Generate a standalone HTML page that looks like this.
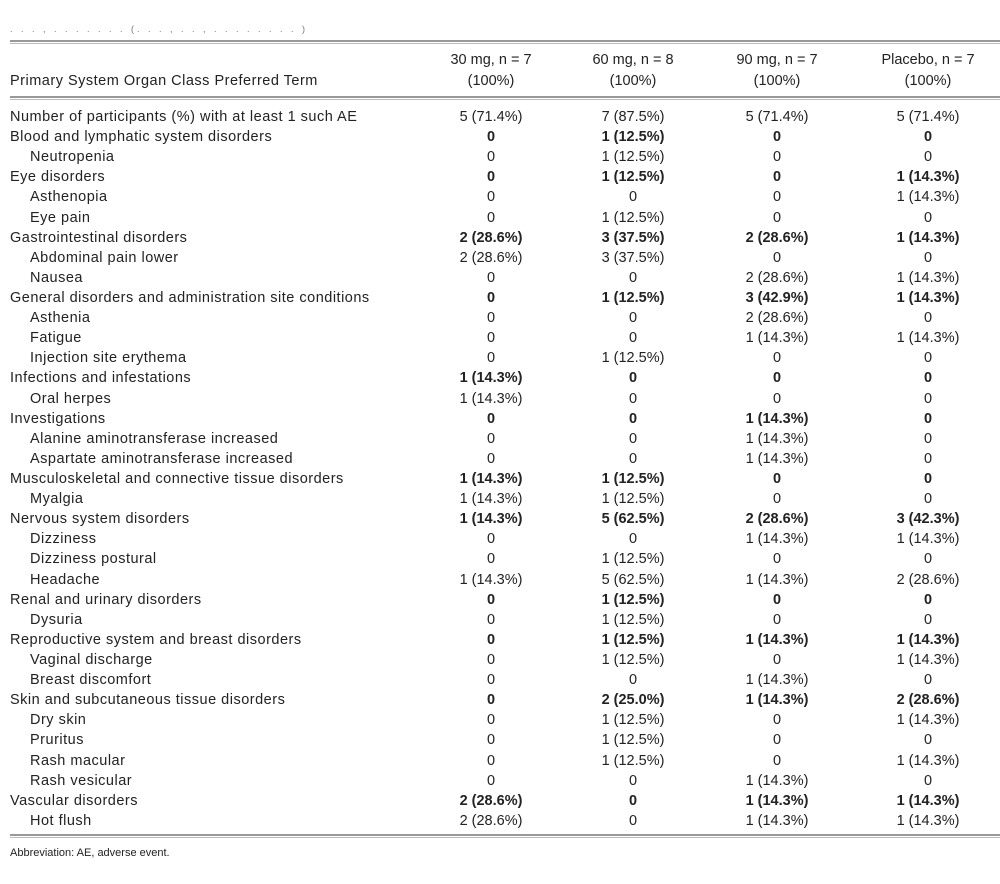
<!DOCTYPE html>
<html><head><style>
body{margin:0;background:#fff;width:1000px;height:884px;position:relative;font-family:"Liberation Sans",sans-serif;color:#222;overflow:hidden}
.r{position:absolute;left:0;width:1000px;height:20px;font-size:14.5px;line-height:20px}
.r span{position:absolute;top:0;white-space:nowrap}
.l{left:10px;letter-spacing:0.5px}.i{left:30px;letter-spacing:0.5px}
.c{transform:translateX(-50%)}
.c1{left:491px}.c2{left:633px}.c3{left:777px}.c4{left:928px}
.b{font-weight:bold}
.rule{position:absolute;left:10px;width:990px;border-top:2px solid #999;border-bottom:1px solid #bbb;height:1px}
.h{position:absolute;font-size:14.5px;text-align:center;line-height:21px;transform:translateX(-50%);white-space:nowrap}
</style></head><body>
<div style="position:absolute;left:10px;top:24px;font-size:9px;color:#777;letter-spacing:3px">. . . , . . . . . . . (. . . , . . , . . . . . . . . )</div>
<div class="rule" style="top:40px"></div>
<div class="h" style="left:491px;top:50px">30 mg, n = 7<br>(100%)</div>
<div class="h" style="left:633px;top:50px">60 mg, n = 8<br>(100%)</div>
<div class="h" style="left:777px;top:50px">90 mg, n = 7<br>(100%)</div>
<div class="h" style="left:928px;top:50px">Placebo, n = 7<br>(100%)</div>
<div style="position:absolute;left:10px;top:71px;font-size:14.5px;line-height:21px;letter-spacing:0.5px">Primary System Organ Class Preferred Term</div>
<div class="rule" style="top:96px"></div>
<div id="t"></div>
<div class="rule" style="top:834px"></div>
<div style="position:absolute;left:10px;top:847px;font-size:11px">Abbreviation: AE, adverse event.</div>
<script>
var rows=[
[0,"Number of participants (%) with at least 1 such AE","5 (71.4%)","7 (87.5%)","5 (71.4%)","5 (71.4%)",0],
[0,"Blood and lymphatic system disorders","0","1 (12.5%)","0","0",1],
[1,"Neutropenia","0","1 (12.5%)","0","0",0],
[0,"Eye disorders","0","1 (12.5%)","0","1 (14.3%)",1],
[1,"Asthenopia","0","0","0","1 (14.3%)",0],
[1,"Eye pain","0","1 (12.5%)","0","0",0],
[0,"Gastrointestinal disorders","2 (28.6%)","3 (37.5%)","2 (28.6%)","1 (14.3%)",1],
[1,"Abdominal pain lower","2 (28.6%)","3 (37.5%)","0","0",0],
[1,"Nausea","0","0","2 (28.6%)","1 (14.3%)",0],
[0,"General disorders and administration site conditions","0","1 (12.5%)","3 (42.9%)","1 (14.3%)",1],
[1,"Asthenia","0","0","2 (28.6%)","0",0],
[1,"Fatigue","0","0","1 (14.3%)","1 (14.3%)",0],
[1,"Injection site erythema","0","1 (12.5%)","0","0",0],
[0,"Infections and infestations","1 (14.3%)","0","0","0",1],
[1,"Oral herpes","1 (14.3%)","0","0","0",0],
[0,"Investigations","0","0","1 (14.3%)","0",1],
[1,"Alanine aminotransferase increased","0","0","1 (14.3%)","0",0],
[1,"Aspartate aminotransferase increased","0","0","1 (14.3%)","0",0],
[0,"Musculoskeletal and connective tissue disorders","1 (14.3%)","1 (12.5%)","0","0",1],
[1,"Myalgia","1 (14.3%)","1 (12.5%)","0","0",0],
[0,"Nervous system disorders","1 (14.3%)","5 (62.5%)","2 (28.6%)","3 (42.3%)",1],
[1,"Dizziness","0","0","1 (14.3%)","1 (14.3%)",0],
[1,"Dizziness postural","0","1 (12.5%)","0","0",0],
[1,"Headache","1 (14.3%)","5 (62.5%)","1 (14.3%)","2 (28.6%)",0],
[0,"Renal and urinary disorders","0","1 (12.5%)","0","0",1],
[1,"Dysuria","0","1 (12.5%)","0","0",0],
[0,"Reproductive system and breast disorders","0","1 (12.5%)","1 (14.3%)","1 (14.3%)",1],
[1,"Vaginal discharge","0","1 (12.5%)","0","1 (14.3%)",0],
[1,"Breast discomfort","0","0","1 (14.3%)","0",0],
[0,"Skin and subcutaneous tissue disorders","0","2 (25.0%)","1 (14.3%)","2 (28.6%)",1],
[1,"Dry skin","0","1 (12.5%)","0","1 (14.3%)",0],
[1,"Pruritus","0","1 (12.5%)","0","0",0],
[1,"Rash macular","0","1 (12.5%)","0","1 (14.3%)",0],
[1,"Rash vesicular","0","0","1 (14.3%)","0",0],
[0,"Vascular disorders","2 (28.6%)","0","1 (14.3%)","1 (14.3%)",1],
[1,"Hot flush","2 (28.6%)","0","1 (14.3%)","1 (14.3%)",0]];
var h="";
rows.forEach(function(r,k){
 var y=107+k*20.11;
 h+='<div class="r" style="top:'+y+'px"><span class="'+(r[0]?'i':'l')+'">'+r[1]+'</span>';
 for(var j=0;j<4;j++)h+='<span class="c c'+(j+1)+(r[6]?' b':'')+'">'+r[2+j]+'</span>';
 h+='</div>';
});
document.getElementById("t").innerHTML=h;
</script>
</body></html>
